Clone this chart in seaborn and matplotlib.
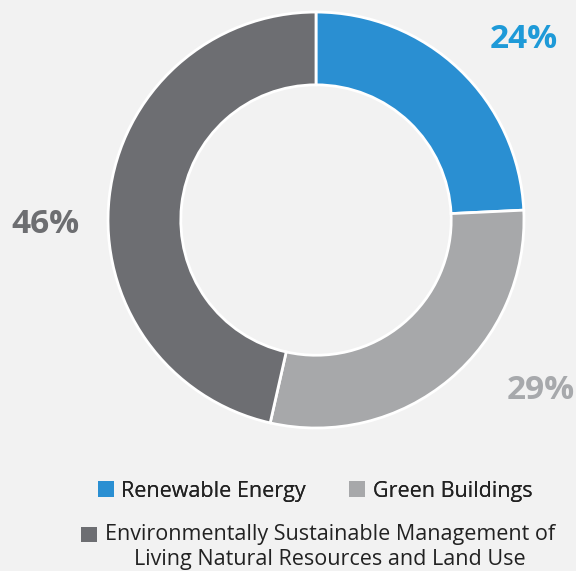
import matplotlib
matplotlib.use('Agg')
import matplotlib.pyplot as plt
import matplotlib.patches as mpatches
from matplotlib.legend_handler import HandlerPatch
import seaborn as sns

categories = ['Renewable Energy', 'Green Buildings',
              'Environmentally Sustainable Management of\nLiving Natural Resources and Land Use']
shares = [24, 29, 46]
colors = ['#2a8fd2', '#a7a8aa', '#6d6e72']
label_colors = ['#1e9ad8', '#a7a9ac', '#6d6e71']
# label spots in data units (radius = 1)
label_pos = [(1.00, 0.87), (1.08, -0.82), (-1.30, -0.02)]

sns.set_theme(style='white')
plt.rcParams['font.family'] = ['Open Sans', 'DejaVu Sans']

bg = '#f2f2f2'
fig = plt.figure(figsize=(5.76, 5.71), dpi=100, facecolor=bg)
ax = fig.add_axes([0.1875, 0.2504, 0.7222, 0.7285])
ax.set_facecolor(bg)

wedges, _ = ax.pie(shares, colors=colors, startangle=90, counterclock=False,
                   radius=1, wedgeprops=dict(width=0.35, edgecolor='white', linewidth=2))
ax.set_xlim(-1, 1)
ax.set_ylim(-1, 1)
ax.set_aspect('equal')
ax.axis('off')

for v, (x, y), c in zip(shares, label_pos, label_colors):
    ax.text(x, y, f'{v}%', ha='center', va='center', fontsize=24,
            fontweight='bold', color=c, clip_on=False)

handles = [mpatches.Patch(facecolor=c, edgecolor='none') for c in colors]


def top_square(legend, orig_handle, xdescent, ydescent, width, height, fontsize):
    # put the square next to the first line of a two line label
    return mpatches.Rectangle((-xdescent, -ydescent + 0.6 * fontsize), width, height)


leg1 = fig.legend(handles[:2], categories[:2], ncol=2, loc='center',
                  bbox_to_anchor=(315 / 576, 1 - 491 / 571), frameon=False,
                  fontsize=15.5, handlelength=0.75, handleheight=0.75,
                  handletextpad=0.35, columnspacing=2.0, labelcolor='#222222')
fig.add_artist(leg1)
leg2 = fig.legend(handles[2:], categories[2:], loc='center',
                  bbox_to_anchor=(318 / 576, 1 - 547 / 571), frameon=False,
                  fontsize=15.5, handlelength=0.75, handleheight=0.75,
                  handletextpad=0.35, labelspacing=0.1, labelcolor='#222222',
                  handler_map={mpatches.Patch: HandlerPatch(patch_func=top_square)})
for t in leg2.get_texts():
    t.set_multialignment('center')
    t.set_linespacing(1.25)

fig.savefig('out.png', dpi=100, facecolor=bg)
